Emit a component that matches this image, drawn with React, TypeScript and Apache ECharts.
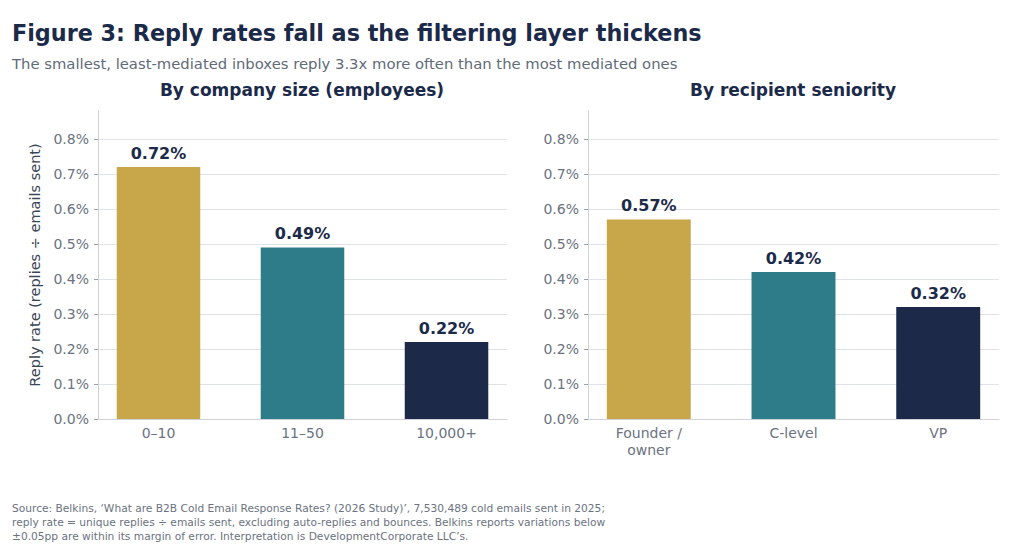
import React, { useEffect, useRef } from "react";
import * as echarts from "echarts";

const sizeCategories = ["0–10", "11–50", "10,000+"];
const sizeValues = [0.72, 0.49, 0.22];
const seniorityCategories = ["Founder /\nowner", "C-level", "VP"];
const seniorityValues = [0.57, 0.42, 0.32];
const yTicks = [0, 0.1, 0.2, 0.3, 0.4, 0.5, 0.6, 0.7, 0.8];
const barColors = ["#c8a74b", "#2e7b8a", "#1c2948"];

const titleText = "Figure 3: Reply rates fall as the filtering layer thickens";
const subtitleText =
  "The smallest, least-mediated inboxes reply 3.3x more often than the most mediated ones";
const panelTitles = ["By company size (employees)", "By recipient seniority"];
const yAxisTitle = "Reply rate (replies ÷ emails sent)";
const sourceLines = [
  "Source: Belkins, ‘What are B2B Cold Email Response Rates? (2026 Study)’, 7,530,489 cold emails sent in 2025;",
  "reply rate = unique replies ÷ emails sent, excluding auto-replies and bounces. Belkins reports variations below",
  "±0.05pp are within its margin of error. Interpretation is DevelopmentCorporate LLC’s.",
];

const FONT = "'DejaVu Sans', Verdana, sans-serif";
const NAVY = "#1c2a4a";
const GREY = "#6b7280";

export default function App() {
  const ref = useRef<HTMLDivElement>(null);

  useEffect(() => {
    if (!ref.current) return;
    const chart = echarts.init(ref.current, undefined, { renderer: "svg" });

    const makeX = (gridIndex: number, cats: string[]) => ({
      type: "value",
      gridIndex,
      min: -0.42,
      max: 2.42,
      splitLine: { show: false },
      axisTick: { show: false },
      axisLine: { show: true, onZero: false, lineStyle: { color: "#cfd3d8", width: 1 } },
      axisLabel: {
        customValues: [0, 1, 2],
        formatter: (v: number) => cats[Math.round(v)] ?? "",
        color: GREY,
        fontSize: 14,
        fontFamily: FONT,
        margin: 5,
        lineHeight: 17,
      },
    });

    const makeY = (gridIndex: number) => ({
      type: "value",
      gridIndex,
      min: 0,
      max: 0.88,
      axisLine: { show: true, onZero: false, lineStyle: { color: "#cfd3d8", width: 1 } },
      axisTick: {
        show: true,
        customValues: yTicks,
        length: 4,
        lineStyle: { color: "#9aa1aa" },
      },
      axisLabel: {
        customValues: yTicks,
        formatter: (v: number) => v.toFixed(1) + "%",
        color: GREY,
        fontSize: 14,
        fontFamily: FONT,
        margin: 9,
      },
      splitLine: { show: true, lineStyle: { color: "#dfe2e6", width: 1 } },
    });

    const makeSeries = (idx: number, values: number[]) => ({
      type: "bar",
      xAxisIndex: idx,
      yAxisIndex: idx,
      barWidth: "58%",
      data: values.map((v, i) => ({ value: [i, v], itemStyle: { color: barColors[i] } })),
      label: {
        show: true,
        position: "top",
        distance: 6,
        formatter: (p: any) => p.value[1].toFixed(2) + "%",
        color: NAVY,
        fontSize: 16,
        fontWeight: "bold",
        fontFamily: FONT,
      },
    });

    const textEl = (
      text: string,
      x: number,
      y: number,
      size: number,
      color: string,
      weight: string,
      align: string = "left",
      rotation = 0
    ) => ({
      type: "text",
      x,
      y,
      rotation,
      style: {
        text,
        fill: color,
        font: `${weight} ${size}px ${FONT}`,
        textAlign: align,
        textVerticalAlign: "middle",
      },
    });

    chart.setOption({
      animation: false,
      backgroundColor: "#ffffff",
      grid: [
        { left: 98, right: 517, top: 111, bottom: 136 },
        { left: 588, right: 25, top: 111, bottom: 136 },
      ],
      xAxis: [makeX(0, sizeCategories), makeX(1, seniorityCategories)],
      yAxis: [makeY(0), makeY(1)],
      series: [makeSeries(0, sizeValues), makeSeries(1, seniorityValues)],
      graphic: [
        textEl(titleText, 12, 33, 22.3, NAVY, "bold"),
        textEl(subtitleText, 12, 63, 14.8, "#5f6a78", "normal"),
        textEl(panelTitles[0], 302, 90, 17, NAVY, "bold", "center"),
        textEl(panelTitles[1], 793, 90, 17, NAVY, "bold", "center"),
        textEl(yAxisTitle, 35, 265, 14.5, "#3b4656", "normal", "center", Math.PI / 2),
        ...sourceLines.map((l, i) => textEl(l, 12, 508 + i * 14, 10.65, "#6b7280", "normal")),
      ],
    });

    return () => chart.dispose();
  }, []);

  return (
    <div
      ref={ref}
      style={{ position: "fixed", left: 0, top: 0, width: 1024, height: 555 }}
    />
  );
}
